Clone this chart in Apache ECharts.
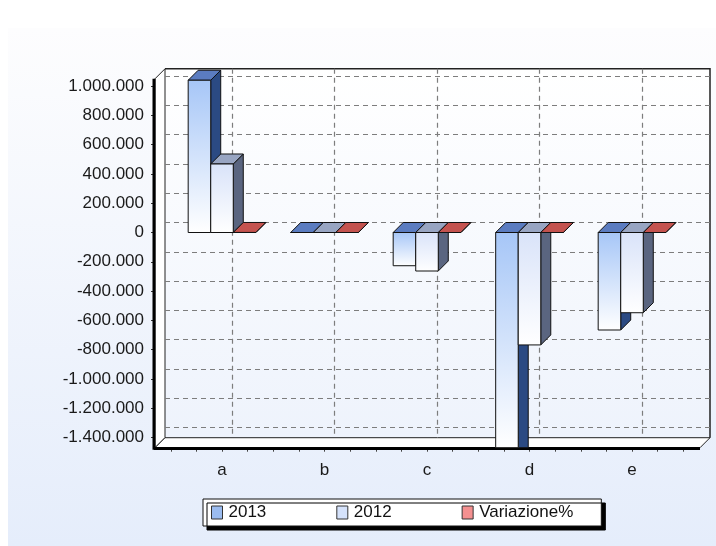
<!DOCTYPE html>
<html>
<head>
<meta charset="utf-8">
<title>2013 vs 2012</title>
<script src="https://cdn.jsdelivr.net/npm/echarts@6/dist/echarts.min.js"></script>
<style>
  html, body { margin: 0; padding: 0; background: #fff; }
  #chart { width: 716px; height: 546px; }
</style>
</head>
<body>
<div id="chart"></div>
<script>
// dati
var categories = ['a', 'b', 'c', 'd', 'e'];
var seriesNames = ['2013', '2012', 'Variazione%'];
var values2013 = [1040000, 0, -227000, -1520000, -666000];
var values2012 = [468000, 0, -263000, -768000, -548000];
var valuesVar = [122, 0, -14, -98, -22];
var yTicks = { min: -1400000, max: 1000000, step: 200000 };
var yRange = { min: -1470000, max: 1050000 };

// layout (px)
var ZERO_Y = 232.5;
var PX_PER_UNIT = 146.4 / 1000000;
var FRONT_LEFT = 155;
var FRONT_RIGHT = 700;
var CAT_LEFT = 170.75;
var CAT_WIDTH = 512.5;
var DEPTH = 10;
var BAR_RATIO = 0.22;

var gridTop = ZERO_Y - yRange.max * PX_PER_UNIT;
var gridH = (yRange.max - yRange.min) * PX_PER_UNIT;
var gridBottom = gridTop + gridH;
var tickTop = ZERO_Y - yTicks.max * PX_PER_UNIT;
var tickH = (yTicks.max - yTicks.min) * PX_PER_UNIT;

var palettes = [
  { front: '#a6c6f7', top: '#5b7cc0', side: '#2b4a83', legend: '#9bbcf0' },
  { front: '#d9e3f9', top: '#98a5c2', side: '#5a6580', legend: '#d5e2fb' },
  { front: '#f6a3a3', top: '#c4534f', side: '#8a3030', legend: '#f49090' }
];

function fmt(v) {
  var s = String(Math.abs(v)).replace(/\B(?=(\d{3})+(?!\d))/g, '.');
  return (v < 0 ? '-' : '') + s;
}

function boxRenderer(slot, pal) {
  return function (params, api) {
    var i = api.value(0), v = api.value(1);
    var band = api.size([1, 0])[0];
    var w = band * BAR_RATIO;
    var base = api.coord([i, 0]);
    var cx = base[0] + (slot - 1) * w;
    var x0 = cx - w / 2, x1 = cx + w / 2;
    var y0 = base[1];
    var clamped = v < yRange.min;
    var yv = api.coord([i, Math.max(v, yRange.min)])[1];
    var top = Math.min(y0, yv), bot = Math.max(y0, yv);
    var d = DEPTH;
    var line = { stroke: '#111', lineWidth: 1 };
    return {
      type: 'group',
      children: [
        {
          type: 'polygon',
          shape: { points: [[x1, top], [x1 + d, top - d], [x1 + d, clamped ? bot : bot - d], [x1, bot]] },
          style: Object.assign({ fill: pal.side }, line)
        },
        {
          type: 'polygon',
          shape: { points: [[x0, top], [x0 + d, top - d], [x1 + d, top - d], [x1, top]] },
          style: Object.assign({ fill: pal.top }, line)
        },
        {
          type: 'rect',
          shape: { x: x0, y: top, width: w, height: bot - top },
          style: Object.assign({
            fill: new echarts.graphic.LinearGradient(0, 0, 0, 1, [
              { offset: 0, color: pal.front },
              { offset: 1, color: '#ffffff' }
            ])
          }, line)
        }
      ]
    };
  };
}

var allValues = [values2013, values2012, valuesVar];

var chart = echarts.init(document.getElementById('chart'));

var gridLineStyle = { color: '#7d7d7d', type: [5, 4], width: 1.2 };

var option = {
  animation: false,
  textStyle: { fontFamily: 'Liberation Sans, Arial, sans-serif' },
  graphic: [
    {
      type: 'rect', z: -20,
      shape: { x: 8, y: 28, width: 708, height: 518 },
      style: {
        fill: new echarts.graphic.LinearGradient(0, 0, 0, 1, [
          { offset: 0, color: '#fdfdfe' },
          { offset: 1, color: '#e5edfb' }
        ])
      }
    },
    {
      type: 'rect', z: -15,
      shape: { x: FRONT_LEFT + DEPTH, y: gridTop - DEPTH, width: FRONT_RIGHT - FRONT_LEFT, height: gridH },
      style: {
        fill: new echarts.graphic.LinearGradient(0, 0, 0, 1, [
          { offset: 0, color: '#ffffff' },
          { offset: 1, color: '#eef3fc' }
        ])
      }
    },
    {
      type: 'polygon', z: -14,
      shape: { points: [[FRONT_LEFT, gridTop], [FRONT_LEFT + DEPTH, gridTop - DEPTH], [FRONT_LEFT + DEPTH, gridBottom - DEPTH], [FRONT_LEFT, gridBottom]] },
      style: { fill: '#ffffff', stroke: '#222', lineWidth: 1 }
    },
    {
      type: 'polygon', z: -14,
      shape: { points: [[FRONT_LEFT, gridBottom], [FRONT_LEFT + DEPTH, gridBottom - DEPTH], [FRONT_RIGHT + DEPTH, gridBottom - DEPTH], [FRONT_RIGHT, gridBottom]] },
      style: { fill: '#ffffff', stroke: '#222', lineWidth: 1 }
    },
    {
      type: 'polyline', z: -13,
      shape: { points: [[FRONT_LEFT + DEPTH, gridTop - DEPTH], [FRONT_RIGHT + DEPTH, gridTop - DEPTH], [FRONT_RIGHT + DEPTH, gridBottom - DEPTH]] },
      style: { fill: null, stroke: '#222', lineWidth: 1.5 }
    },
    {
      type: 'line', z: 1,
      shape: { x1: FRONT_LEFT - 1, y1: gridBottom + 0.8, x2: FRONT_RIGHT, y2: gridBottom + 0.8 },
      style: { stroke: '#000', lineWidth: 3 }
    },
    {
      type: 'line', z: 5,
      shape: { x1: FRONT_LEFT - 1, y1: gridTop, x2: FRONT_LEFT - 1, y2: gridBottom + 2 },
      style: { stroke: '#000', lineWidth: 3 }
    }
  ],
  legend: {
    left: 203, top: 499,
    orient: 'horizontal',
    padding: [5, 28, 5, 8],
    itemGap: 70,
    itemWidth: 11,
    itemHeight: 13,
    backgroundColor: '#fff',
    borderColor: '#111',
    borderWidth: 1,
    borderRadius: 0,
    shadowColor: '#000',
    shadowBlur: 0,
    shadowOffsetX: 4,
    shadowOffsetY: 4,
    textStyle: { fontSize: 17, color: '#111', padding: [0, 0, 0, 1] },
    data: seriesNames.map(function (n, k) {
      return { name: n, icon: 'rect', itemStyle: { color: palettes[k].legend, borderColor: '#333', borderWidth: 1 } };
    })
  },
  grid: [
    { left: CAT_LEFT, top: gridTop, width: CAT_WIDTH, height: gridH },
    { left: FRONT_LEFT, top: tickTop, width: FRONT_RIGHT - FRONT_LEFT, height: tickH },
    { left: FRONT_LEFT + DEPTH, top: tickTop - DEPTH, width: FRONT_RIGHT - FRONT_LEFT, height: tickH },
    { left: CAT_LEFT + CAT_WIDTH / 10 + DEPTH, top: gridTop - DEPTH, width: CAT_WIDTH * 0.8, height: gridH },
    { left: CAT_LEFT, top: gridTop, width: CAT_WIDTH, height: gridH }
  ],
  xAxis: [
    {
      gridIndex: 0, type: 'category', data: categories,
      axisLine: { show: false },
      axisTick: { alignWithLabel: true, length: 7, lineStyle: { color: '#333' } },
      axisLabel: { fontSize: 17, color: '#1a1a1a', margin: 14 },
      splitLine: { show: false }
    },
    { gridIndex: 1, type: 'value', show: false },
    { gridIndex: 2, type: 'value', show: false },
    {
      gridIndex: 3, type: 'value', min: 0, max: categories.length - 1, interval: 1,
      axisLine: { show: false }, axisTick: { show: false }, axisLabel: { show: false },
      splitLine: { show: true, lineStyle: gridLineStyle }
    },
    {
      gridIndex: 4, type: 'value', min: -0.5, max: categories.length - 0.5, interval: 0.25,
      axisLine: { show: false }, axisLabel: { show: false }, splitLine: { show: false },
      axisTick: { length: 4, lineStyle: { color: '#444' } }
    }
  ],
  yAxis: [
    { gridIndex: 0, type: 'value', min: yRange.min, max: yRange.max, show: false },
    {
      gridIndex: 1, type: 'value', min: yTicks.min, max: yTicks.max, interval: yTicks.step,
      axisLine: { show: false },
      axisTick: { show: true, length: 4, lineStyle: { color: '#333' } },
      axisLabel: { fontSize: 17, color: '#1a1a1a', margin: 11, formatter: fmt },
      splitLine: { show: false }
    },
    {
      gridIndex: 2, type: 'value', min: yTicks.min, max: yTicks.max, interval: yTicks.step,
      axisLine: { show: false }, axisTick: { show: false }, axisLabel: { show: false },
      splitLine: { show: true, lineStyle: gridLineStyle }
    },
    { gridIndex: 3, type: 'value', show: false },
    { gridIndex: 4, type: 'value', show: false }
  ],
  series: seriesNames.map(function (n, k) {
    return {
      name: n,
      type: 'custom',
      xAxisIndex: 0,
      yAxisIndex: 0,
      itemStyle: { color: palettes[k].legend },
      encode: { x: 0, y: 1 },
      renderItem: boxRenderer(k, palettes[k]),
      data: allValues[k].map(function (v, i) { return [i, v]; })
    };
  })
};

chart.setOption(option);
</script>
</body>
</html>
